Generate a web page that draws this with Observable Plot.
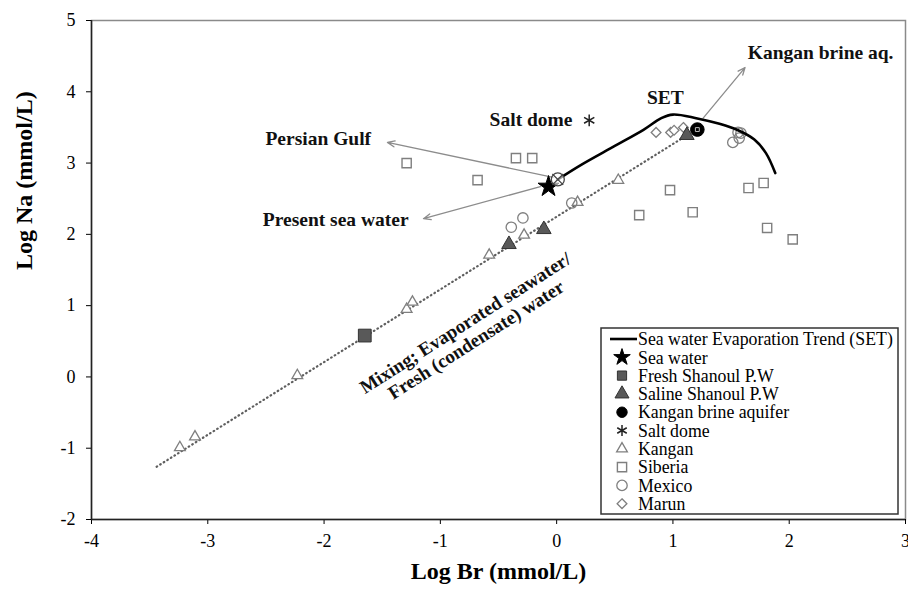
<!DOCTYPE html>
<html>
<head>
<meta charset="utf-8">
<script src="https://cdn.jsdelivr.net/npm/d3@7"></script>
<script src="https://cdn.jsdelivr.net/npm/@observablehq/plot@0.6"></script>
<style>
  body { margin: 0; background: #fff; }
  #chart { position: relative; width: 908px; height: 592px; }
  #legend { position: absolute; left: 600px; top: 327px; }
</style>
</head>
<body>
<div id="chart"></div>
<script>
// Log Br vs Log Na (mmol/L)
const xTicks = [-4, -3, -2, -1, 0, 1, 2, 3];
const yTicks = [-2, -1, 0, 1, 2, 3, 4, 5];

// Sea water evaporation trend (SET)
const setBr = [0.01, 0.2, 0.5, 0.75, 0.9, 1.0, 1.2, 1.4, 1.56, 1.7, 1.8, 1.88];
const setNa = [2.77, 2.965, 3.24, 3.47, 3.63, 3.68, 3.63, 3.55, 3.46, 3.33, 3.14, 2.86];

// Mixing line: evaporated seawater / fresh (condensate) water
const mixBr = [-3.44, 1.12];
const mixNa = [-1.26, 3.39];

const seaBr = [-0.07];
const seaNa = [2.67];
const setStartBr = [0.01];
const setStartNa = [2.77];
const freshBr = [-1.65];
const freshNa = [0.58];
const salineBr = [-0.41, -0.11, 1.12];
const salineNa = [1.86, 2.07, 3.39];
const brineBr = [1.21];
const brineNa = [3.47];
const saltBr = [0.28];
const saltNa = [3.60];
const kanganBr = [-3.24, -3.11, -2.23, -1.29, -1.24, -0.58, -0.28, 0.18, 0.53];
const kanganNa = [-0.99, -0.84, 0.02, 0.95, 1.05, 1.71, 1.99, 2.45, 2.76];
const siberiaBr = [-1.29, -0.68, -0.35, -0.21, 0.71, 0.975, 1.17, 1.65, 1.78, 1.81, 2.03];
const siberiaNa = [3.0, 2.76, 3.07, 3.07, 2.27, 2.62, 2.31, 2.65, 2.72, 2.09, 1.93];
const mexicoBr = [-0.39, -0.29, 0.13, 1.515, 1.57, 1.56, 1.585];
const mexicoNa = [2.10, 2.23, 2.44, 3.29, 3.35, 3.43, 3.42];
const marunBr = [0.855, 0.98, 1.01, 1.09];
const marunNa = [3.43, 3.43, 3.46, 3.50];

// Annotations
const noteText = ["Persian Gulf", "Present sea water", "Salt dome", "SET", "Kangan brine aq."];
const noteBr = [-2.05, -1.90, -0.22, 0.935, 2.27];
const noteNa = [3.345, 2.21, 3.61, 3.92, 4.55];
const arrowFromBr = [-0.03, -0.14, 1.26];
const arrowFromNa = [2.80, 2.67, 3.63];
const arrowToBr = [-1.455, -1.145, 1.62];
const arrowToNa = [3.29, 2.22, 4.34];
const mixText = ["Mixing; Evaporated seawater/\nFresh (condensate) water"];
const mixTextBr = [-0.74];
const mixTextNa = [0.64];

const legendNames = ["Sea water Evaporation Trend (SET)", "Sea water", "Fresh Shanoul P.W",
  "Saline Shanoul P.W", "Kangan brine aquifer", "Salt dome", "Kangan", "Siberia", "Mexico", "Marun"];

const serif = '"Liberation Serif", "Times New Roman", serif';
const pts = (xs, ys) => xs.map((x, i) => ({x, y: ys[i]}));
const openGray = "#7f7f7f";
const darkFill = "#595959";

// marker styles per series
const styles = {
  "Sea water": {symbol: "star", r: 6.6, fill: "#000", stroke: "#000", strokeWidth: 1},
  "Fresh Shanoul P.W": {symbol: "square", r: 7.2, fill: darkFill, stroke: "#333", strokeWidth: 1},
  "Saline Shanoul P.W": {symbol: "triangle", r: 5.4, fill: darkFill, stroke: "#333", strokeWidth: 1},
  "Kangan brine aquifer": {symbol: "circle", r: 6.8, fill: "#000", stroke: "#000", strokeWidth: 1},
  "Salt dome": {symbol: "asterisk", r: 5.6, fill: "none", stroke: "#222", strokeWidth: 1.5},
  "Kangan": {symbol: "triangle", r: 4.0, fill: "#fff", stroke: openGray, strokeWidth: 1.3},
  "Siberia": {symbol: "square", r: 5.2, fill: "#fff", stroke: openGray, strokeWidth: 1.4},
  "Mexico": {symbol: "circle", r: 5.2, fill: "none", stroke: openGray, strokeWidth: 1.3},
  "Marun": {symbol: "diamond2", r: 4.4, fill: "#fff", stroke: openGray, strokeWidth: 1.3}
};
const dots = (name, xs, ys) => Plot.dot(pts(xs, ys), {x: "x", y: "y", ...styles[name]});

const chart = Plot.plot({
  width: 908,
  height: 592,
  marginLeft: 91,
  marginRight: 3,
  marginTop: 20,
  marginBottom: 73,
  style: {fontFamily: serif, fontSize: "18px", color: "#000", background: "#fff"},
  x: {domain: [-4, 3]},
  y: {domain: [-2, 5]},
  marks: [
    Plot.frame({stroke: "#8a8a8a", strokeWidth: 1.5}),
    Plot.axisX({ticks: xTicks, tickSize: 5, tickPadding: 10, tickFormat: d => String(d), label: null, fontSize: 18}),
    Plot.axisY({ticks: yTicks, tickSize: 5, tickPadding: 11, tickFormat: d => String(d), label: null, fontSize: 18}),
    Plot.ruleX([-4], {stroke: "#222", strokeWidth: 1.5}),
    Plot.ruleY([-2], {stroke: "#222", strokeWidth: 1.5}),
    Plot.text(["Log Br (mmol/L)"], {frameAnchor: "bottom", dy: 59, fontSize: 24, fontWeight: "bold"}),
    Plot.text(["Log Na (mmol/L)"], {frameAnchor: "left", dx: -67, rotate: -90, fontSize: 24, fontWeight: "bold"}),
    // mixing line
    Plot.line(pts(mixBr, mixNa), {x: "x", y: "y", stroke: "#5f5f5f", strokeWidth: 2.2, strokeDasharray: "0.6,3.6", strokeLinecap: "round"}),
    // annotation arrows
    Plot.arrow(d3.range(arrowFromBr.length), {
      x1: i => arrowFromBr[i], y1: i => arrowFromNa[i],
      x2: i => arrowToBr[i], y2: i => arrowToNa[i],
      stroke: "#8c8c8c", strokeWidth: 1.3, headLength: 9, headAngle: 45
    }),
    dots("Siberia", siberiaBr, siberiaNa),
    dots("Kangan", kanganBr, kanganNa),
    dots("Mexico", mexicoBr, mexicoNa),
    dots("Marun", marunBr, marunNa),
    // SET curve
    Plot.line(pts(setBr, setNa), {x: "x", y: "y", stroke: "#000", strokeWidth: 2.6, curve: "catmull-rom"}),
    dots("Fresh Shanoul P.W", freshBr, freshNa),
    dots("Saline Shanoul P.W", salineBr, salineNa),
    dots("Kangan brine aquifer", brineBr, brineNa),
    Plot.dot(pts(brineBr, brineNa), {x: "x", y: "y", symbol: "square", r: 2.2, fill: "none", stroke: "#bbb", strokeWidth: 1}),
    dots("Salt dome", saltBr, saltNa),
    dots("Sea water", seaBr, seaNa),
    // start of SET
    Plot.dot(pts(setStartBr, setStartNa), {x: "x", y: "y", symbol: "circle", r: 6.5, fill: "#fff", fillOpacity: 0.6, stroke: "#444", strokeWidth: 1.3}),
    Plot.dot(pts(setStartBr, setStartNa), {x: "x", y: "y", symbol: "times", r: 5, stroke: "#444", strokeWidth: 1.2}),
    // annotation text
    Plot.text(d3.range(noteText.length), {
      x: i => noteBr[i], y: i => noteNa[i], text: i => noteText[i],
      fontSize: 19.5, fontWeight: "bold", fill: "#111"
    }),
    Plot.text(d3.range(mixText.length), {
      x: i => mixTextBr[i], y: i => mixTextNa[i], text: i => mixText[i],
      rotate: -32.5, fontSize: 19, fontWeight: "bold", lineHeight: 1.05, fill: "#111"
    })
  ]
});
document.getElementById("chart").appendChild(chart);

// Legend box inside the plot area
const lg = d3.select("#chart").append("svg")
  .attr("id", "legend")
  .attr("width", 300)
  .attr("height", 190)
  .style("font-family", serif);
lg.append("rect")
  .attr("x", 1).attr("y", 1).attr("width", 297).attr("height", 186)
  .attr("fill", "#fff").attr("stroke", "#333").attr("stroke-width", 1.5);
const symbolMap = {
  star: d3.symbolStar, square: d3.symbolSquare, triangle: d3.symbolTriangle,
  circle: d3.symbolCircle, asterisk: d3.symbolAsterisk, diamond2: d3.symbolDiamond2
};
legendNames.forEach((name, i) => {
  const cy = 12 + i * 18.3;
  if (i === 0) {
    lg.append("line").attr("x1", 10).attr("x2", 37).attr("y1", cy).attr("y2", cy)
      .attr("stroke", "#000").attr("stroke-width", 2.6);
  } else {
    const s = styles[name];
    const r = Math.min(s.r, 5.2);
    lg.append("path")
      .attr("transform", `translate(22,${cy})`)
      .attr("d", d3.symbol(symbolMap[s.symbol], Math.PI * r * r)())
      .attr("fill", s.fill === "none" ? "none" : s.fill)
      .attr("stroke", s.stroke)
      .attr("stroke-width", s.strokeWidth);
  }
  lg.append("text")
    .attr("x", 38).attr("y", cy)
    .attr("dy", "0.35em")
    .attr("font-size", 17.8)
    .text(name);
});
</script>
</body>
</html>
